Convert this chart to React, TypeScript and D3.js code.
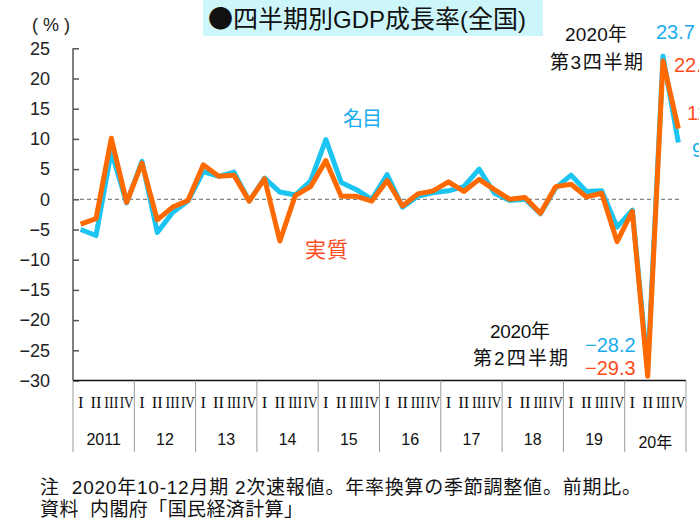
import { useEffect, useRef } from 'react';
import * as d3 from 'd3';

// 四半期別GDP成長率(全国) 年率換算・前期比
const years = ['2011', '12', '13', '14', '15', '16', '17', '18', '19', '20年'];
const quarters = ['I', 'II', 'III', 'IV'];

// 名目
const nominal = [
    -5.0, -6.0, 7.9, -0.6,
    6.3, -5.5, -2.2, -0.3,
    4.6, 3.8, 4.5, -0.3,
    3.5, 1.2, 0.7, 3.0,
    9.9, 2.8, 1.6, 0.0,
    4.1, -1.3, 0.5, 1.1,
    1.4, 2.1, 5.0, 1.0,
    -0.2, 0.0, -2.4, 1.9,
    4.0, 1.3, 1.4, -4.6,
    -1.8, -28.2, 23.7, 9.4
];

// 実質
const real = [
    -4.1, -3.2, 10.1, -0.5,
    6.0, -3.4, -1.3, -0.2,
    5.7, 3.8, 4.0, -0.3,
    3.4, -6.9, 0.6, 2.1,
    6.4, 0.5, 0.5, -0.3,
    3.1, -1.1, 0.9, 1.4,
    2.9, 1.3, 3.3, 1.6,
    0.0, 0.3, -2.3, 2.1,
    2.5, 0.4, 1.0, -7.0,
    -2.0, -29.3, 22.9, 11.7
];

const yTicks = [25, 20, 15, 10, 5, 0, -5, -10, -15, -20, -25, -30];

const sans = '"Liberation Sans", Arial, "Noto Sans CJK JP", sans-serif';
const cjk = '"Noto Sans CJK JP", sans-serif';
const serif = '"Liberation Serif", "Times New Roman", serif';
const blue = '#1cc4f2';
const orange = '#ff6a00';
const blueText = '#1aacef';
const orangeText = '#ff4c1c';

export default function App() {
    const ref = useRef<SVGSVGElement>(null);

    useEffect(() => {
        const svg = d3.select(ref.current);
        svg.selectAll('*').remove();

        const keys = years.flatMap((y) => quarters.map((q) => `${y}-${q}`));

        const x = d3.scaleBand<string>().domain(keys).range([73, 686]).padding(0);
        const cx = (i: number) => (x(keys[i]) as number) + x.bandwidth() / 2;
        const y = d3.scaleLinear().domain([-30, 25]).range([380.5, 48.3]);

        // タイトル
        svg.append('rect')
            .attr('x', 203).attr('y', 0)
            .attr('width', 340).attr('height', 36)
            .attr('fill', '#cdf6fa');
        const title = svg.append('text')
            .attr('x', 208).attr('y', 28)
            .attr('font-family', sans)
            .attr('fill', '#111');
        title.append('tspan').attr('font-size', 25).attr('font-family', cjk).text('●四半期別');
        title.append('tspan').attr('font-size', 24).text('GDP');
        title.append('tspan').attr('font-size', 25).attr('font-family', cjk).text('成長率');
        title.append('tspan').attr('font-size', 24).text('(');
        title.append('tspan').attr('font-size', 25).attr('font-family', cjk).text('全国');
        title.append('tspan').attr('font-size', 24).text(')');

        // 単位
        svg.append('text')
            .attr('x', 32).attr('y', 31)
            .attr('font-family', sans).attr('font-size', 18)
            .attr('textLength', 38).attr('lengthAdjust', 'spacing')
            .attr('fill', '#222')
            .text('(%)');

        // Y軸
        const yAxisG = svg.append('g').attr('transform', 'translate(73,0)');
        const yAxis = d3.axisLeft(y).tickValues(yTicks).tickSize(-6).tickPadding(23).tickFormat(d3.format('d'));
        yAxisG.call(yAxis)
            .call((g) => g.select('.domain').remove())
            .call((g) => g.selectAll('.tick line').attr('stroke', '#555').attr('stroke-width', 1.5))
            .call((g) => g.selectAll('.tick text')
                .attr('font-family', sans).attr('font-size', 18).attr('fill', '#222'));
        svg.append('line')
            .attr('x1', 73).attr('x2', 73)
            .attr('y1', y(25)).attr('y2', y(-30))
            .attr('stroke', '#555').attr('stroke-width', 1.5);

        // 0 ライン
        svg.append('line')
            .attr('x1', 73).attr('x2', 680)
            .attr('y1', y(0)).attr('y2', y(0))
            .attr('stroke', '#666').attr('stroke-width', 1)
            .attr('stroke-dasharray', '4,3');

        // X軸
        svg.append('line')
            .attr('x1', 73).attr('x2', 686)
            .attr('y1', y(-30)).attr('y2', y(-30))
            .attr('stroke', '#111').attr('stroke-width', 1.5);

        const yearEdges = years.map((yr) => x(`${yr}-I`) as number).concat([686]);
        svg.append('g')
            .selectAll('line')
            .data(yearEdges)
            .join('line')
            .attr('x1', (d) => d).attr('x2', (d) => d)
            .attr('y1', y(-30)).attr('y2', 452)
            .attr('stroke', '#999').attr('stroke-width', 1);

        svg.append('g')
            .selectAll('text')
            .data(keys)
            .join('text')
            .attr('x', (_d, i) => cx(i))
            .attr('y', 408)
            .attr('text-anchor', 'middle')
            .attr('font-family', serif)
            .attr('font-size', 16.5)
            .attr('fill', '#111')
            .attr('textLength', (d) => (d.endsWith('-IV') || d.endsWith('-III') ? 14 : null))
            .attr('lengthAdjust', 'spacingAndGlyphs')
            .text((d) => d.split('-')[1]);

        svg.append('g')
            .selectAll('text')
            .data(years)
            .join('text')
            .attr('x', (d, i) => (yearEdges[i] + yearEdges[i + 1]) / 2)
            .attr('y', (d) => (d === '20年' ? 448 : 445))
            .attr('text-anchor', 'middle')
            .attr('font-family', sans)
            .attr('font-size', 16)
            .attr('fill', '#111')
            .text((d) => d);

        // 系列
        const line = d3.line<number>().x((_d, i) => cx(i)).y((d) => y(d));
        svg.append('path')
            .attr('d', line(nominal))
            .attr('fill', 'none')
            .attr('stroke', blue).attr('stroke-width', 5)
            .attr('stroke-linejoin', 'round');
        svg.append('path')
            .attr('d', line(real))
            .attr('fill', 'none')
            .attr('stroke', orange).attr('stroke-width', 5)
            .attr('stroke-linejoin', 'round');

        // ラベル
        const label = (tx: number, ty: number, text: string, color: string, size: number, len?: number) => {
            const t = svg.append('text')
                .attr('x', tx).attr('y', ty)
                .attr('font-family', sans).attr('font-size', size)
                .attr('fill', color)
                .text(text);
            if (len) t.attr('textLength', len).attr('lengthAdjust', 'spacing');
            return t;
        };
        label(343, 126, '名目', blueText, 20, 39);
        label(305, 257, '実質', orangeText, 21, 43);

        label(565, 41, '2020年', '#111', 19, 62);
        label(550, 69, '第3四半期', '#111', 19, 93);
        label(656, 39, d3.format('.1f')(nominal[38]), blueText, 20);
        label(674, 72, d3.format('.1f')(real[38]), orangeText, 20);
        label(687, 120, d3.format('.1f')(real[39]), orangeText, 20);
        label(692, 157, d3.format('.1f')(nominal[39]), blueText, 20);

        label(490, 338, '2020年', '#111', 19, 60);
        label(473, 365, '第2四半期', '#111', 19, 95);
        label(585, 352, d3.format('.1f')(nominal[37]).replace('-', '\u2212'), blueText, 20);
        label(585, 375, d3.format('.1f')(real[37]).replace('-', '\u2212'), orangeText, 20);

        // 注記
        label(40, 494, '注\u00a0\u00a02020年10-12月期 2次速報値。年率換算の季節調整値。前期比。', '#111', 19, 601);
        label(40, 516, '資料\u00a0\u00a0内閣府「国民経済計算」', '#111', 19, 263);
    }, []);

    return (
        <svg
            ref={ref}
            width={699}
            height={529}
            style={{ position: 'absolute', left: 0, top: 0, background: '#fff' }}
        />
    );
}
